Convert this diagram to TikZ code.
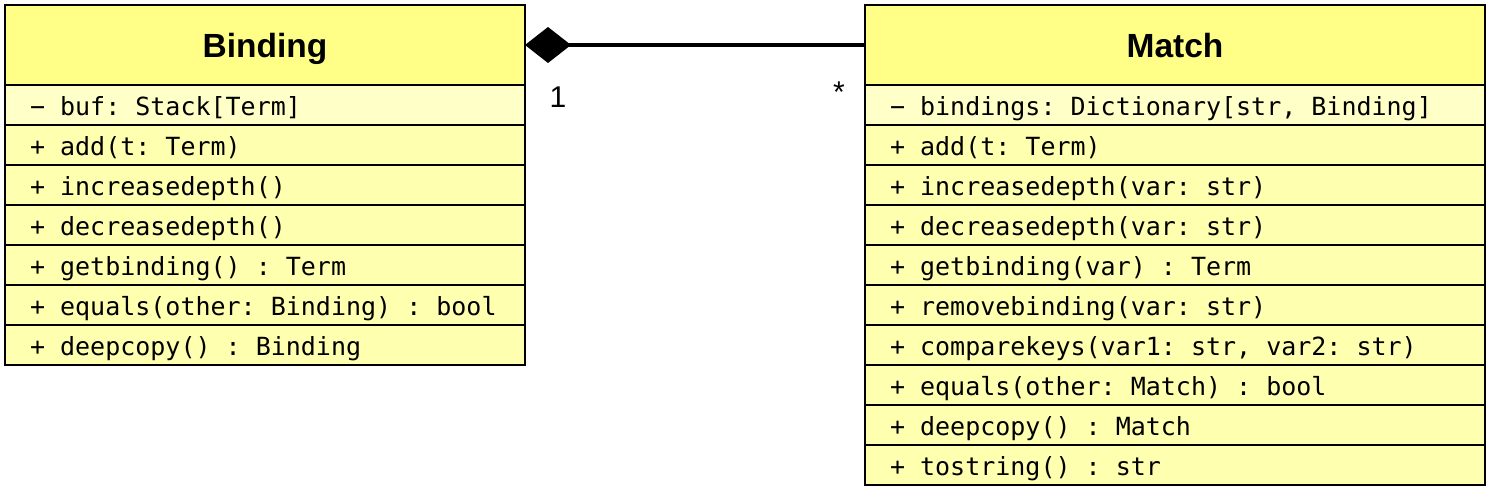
\documentclass[tikz,border=0pt]{standalone}
\usepackage{fontspec}
\setsansfont{Liberation Sans}
\setmonofont{DejaVu Sans Mono}
\usetikzlibrary{arrows.meta}
\definecolor{hdrfill}{HTML}{FFFF88}
\definecolor{attrfill}{HTML}{FFFFC8}
\definecolor{methfill}{HTML}{FFFFB0}
\newcommand\monofnt{\ttfamily\fontsize{25}{25}\selectfont\frenchspacing}
\begin{document}
\begin{tikzpicture}[x=1pt,y=-1pt,
  box/.style={draw, line width=2pt, anchor=north west, outer sep=0pt},
  hdr/.style={box, fill=hdrfill, minimum height=80pt, inner sep=0pt,
    text height=24pt, text depth=0pt,
    font=\sffamily\bfseries\fontsize{33.5}{33.5}\selectfont},
  row/.style={box, minimum height=40pt, inner xsep=25pt, inner ysep=0pt,
    text height=21pt, text depth=0pt, font=\monofnt,
    execute at begin node={\spaceskip=15.05pt\relax\xspaceskip=15.05pt\relax}},
  attr/.style={row, fill=attrfill},
  meth/.style={row, fill=methfill},
  mult/.style={font=\sffamily\fontsize{30}{30}\selectfont, inner sep=0pt}
]
\useasboundingbox (0,0) rectangle (1490,490);
% Binding
\node[hdr, minimum width=520pt] (b0) at (5,5) {Binding};
\node[attr, text width=470pt] (b1) at (5,85) {− buf: Stack[Term]};
\foreach \t [count=\i from 2] in {{+ add(t: Term)},{+ increasedepth()},{+ decreasedepth()},{+ getbinding() : Term},{+ equals(other: Binding) : bool},{+ deepcopy() : Binding}}
  \node[meth, text width=470pt] (b\i) at (5,{85+40*(\i-1)}) {\t};
% Match
\node[hdr, minimum width=620pt] (m0) at (865,5) {Match};
\node[attr, text width=570pt] (m1) at (865,85) {− bindings: Dictionary[str, Binding]};
\foreach \t [count=\i from 2] in {{+ add(t: Term)},{+ increasedepth(var: str)},{+ decreasedepth(var: str)},{+ getbinding(var) : Term},{+ removebinding(var: str)},{+ comparekeys(var1: str, var2: str)},{+ equals(other: Match) : bool},{+ deepcopy() : Match},{+ tostring() : str}}
  \node[meth, text width=570pt] (m\i) at (865,{85+40*(\i-1)}) {\t};
% composition
\draw[line width=3.5pt, {Diamond[length=46pt,width=36pt]}-] (b0.east) -- (m0.west);
\node[mult] (one) at (558,97) {1};
\node[mult] (many) at (839,92) {*};
\end{tikzpicture}
\end{document}
